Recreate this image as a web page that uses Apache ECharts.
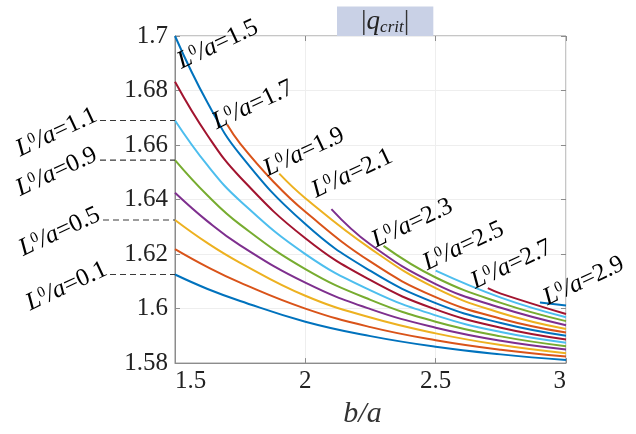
<!DOCTYPE html>
<html><head><meta charset="utf-8">
<script src="https://cdn.jsdelivr.net/npm/echarts@6/dist/echarts.min.js"></script>
<style>html,body{margin:0;padding:0;background:#fff}#c{width:636px;height:434px}</style>
</head><body><div id="c"></div>
<script>
// L0/a values of each curve
const lRatios = ['0.1','0.3','0.5','0.7','0.9','1.1','1.3','1.5','1.7','1.9','2.1','2.3','2.5','2.7','2.9'];
// [b/a, |q_crit|]
const q_L01 = [[1.5,1.6125],[1.625,1.6072],[1.75,1.6028],[2.0,1.5952],[2.25,1.5899],[2.5,1.5860],[2.75,1.5832],[3.0,1.5811]];
const q_L03 = [[1.5,1.6218],[1.625,1.6152],[1.75,1.6095],[2.0,1.6000],[2.25,1.5932],[2.5,1.5884],[2.75,1.5849],[3.0,1.5824]];
const q_L05 = [[1.5,1.6325],[1.625,1.6240],[1.75,1.6168],[2.0,1.6047],[2.25,1.5967],[2.5,1.5909],[2.75,1.5866],[3.0,1.5836]];
const q_L07 = [[1.5,1.6425],[1.625,1.6320],[1.75,1.6232],[2.0,1.6095],[2.25,1.5998],[2.5,1.5930],[2.75,1.5882],[3.0,1.5850]];
const q_L09 = [[1.5,1.6545],[1.625,1.6415],[1.75,1.6308],[2.0,1.6145],[2.25,1.6032],[2.5,1.5952],[2.75,1.5898],[3.0,1.5862]];
const q_L11 = [[1.5,1.6690],[1.625,1.6525],[1.75,1.6395],[2.0,1.6200],[2.25,1.6067],[2.5,1.5975],[2.75,1.5914],[3.0,1.5875]];
const q_L13 = [[1.5,1.6832],[1.625,1.6635],[1.75,1.6482],[2.0,1.6258],[2.25,1.6104],[2.5,1.5997],[2.75,1.5930],[3.0,1.5887]];
const q_L15 = [[1.5,1.7000],[1.625,1.6755],[1.75,1.6565],[2.0,1.6310],[2.25,1.6138],[2.5,1.6020],[2.75,1.5947],[3.0,1.5900]];
const q_L17 = [[1.7,1.6675],[1.75,1.6605],[1.875,1.6468],[2.0,1.6355],[2.25,1.6172],[2.5,1.6042],[2.75,1.5963],[3.0,1.5912]];
const q_L19 = [[1.9,1.6495],[2.0,1.6405],[2.25,1.6220],[2.5,1.6075],[2.75,1.5984],[3.0,1.5925]];
const q_L21 = [[2.1,1.6365],[2.25,1.6235],[2.5,1.6090],[2.75,1.6003],[3.0,1.5939]];
const q_L23 = [[2.3,1.6230],[2.5,1.6114],[2.75,1.6021],[3.0,1.5954]];
const q_L25 = [[2.5,1.6139],[2.75,1.6040],[3.0,1.5968]];
const q_L27 = [[2.7,1.6075],[2.75,1.6055],[3.0,1.5980]];
const q_L29 = [[2.9,1.6022],[3.0,1.6011]];
const curves = [q_L01,q_L03,q_L05,q_L07,q_L09,q_L11,q_L13,q_L15,q_L17,q_L19,q_L21,q_L23,q_L25,q_L27,q_L29];
const xTicks = [1.5, 2, 2.5, 3];
const yTicks = [1.58, 1.6, 1.62, 1.64, 1.66, 1.68, 1.7];

const colors = ['#0072BD','#D95319','#EDB120','#7E2F8E','#77AC30','#4DBEEE','#A2142F'];
const SERIF = '"Liberation Serif","DejaVu Serif",serif';
const chart = echarts.init(document.getElementById('c'), null, {renderer:'canvas'});

const axisCol = '#8c8c8c';
const series = curves.map((d, i) => ({
  type: 'line', name: 'L0/a=' + lRatios[i], data: d, smooth: 0.45,
  showSymbol: false, symbol: 'none', lineStyle: {width: 2, color: colors[i % 7]}, z: 3, silent: true
}));

const option = {
  animation: false,
  title: {
    text: '{b||}{q|q}{s|crit}{b||}',
    left: 337, top: 6,
    backgroundColor: '#c9d1e6',
    padding: [1, 24, 0, 24],
    textStyle: {
      fontWeight: 'normal',
      rich: {
        b: {fontFamily: SERIF, fontWeight: 'normal', fontSize: 28, color: '#333', lineHeight: 29},
        q: {fontFamily: SERIF, fontWeight: 'normal', fontStyle: 'italic', fontSize: 27, color: '#222', lineHeight: 29},
        s: {fontFamily: SERIF, fontWeight: 'normal', fontStyle: 'italic', fontSize: 17, color: '#222', verticalAlign: 'bottom', lineHeight: 23}
      }
    }
  },
  grid: {left: 175, right: 70, top: 36, bottom: 62, show: true, borderColor: axisCol, borderWidth: 1},
  xAxis: [{
    type: 'value', min: xTicks[0], max: xTicks[xTicks.length-1], interval: 0.5,
    axisLine: {lineStyle: {color: axisCol}},
    axisTick: {inside: true, length: 5, lineStyle: {color: axisCol}},
    axisLabel: {color: '#222', fontFamily: SERIF, fontSize: 25, margin: 6, alignMinLabel: 'left', alignMaxLabel: 'right'},
    splitLine: {show: true, lineStyle: {color: '#eeeeee'}},
    name: 'b/a', nameLocation: 'middle', nameGap: 33,
    nameTextStyle: {fontFamily: SERIF, fontStyle: 'italic', fontSize: 30, color: '#333', padding: [0, 16, 0, 0]}
  }, {
    type: 'value', position: 'top', min: xTicks[0], max: xTicks[xTicks.length-1], interval: 0.5,
    axisLine: {show: false}, axisTick: {inside: true, length: 5, lineStyle: {color: axisCol}},
    axisLabel: {show: false}, splitLine: {show: false}
  }],
  yAxis: [{
    type: 'value', min: yTicks[0], max: yTicks[yTicks.length-1], interval: 0.02,
    axisLine: {show: true, lineStyle: {color: axisCol}},
    axisTick: {show: true, inside: true, length: 5, lineStyle: {color: axisCol}},
    axisLabel: {color: '#222', fontFamily: SERIF, fontSize: 25, margin: 7,
      formatter: v => String(+v.toFixed(2))},
    splitLine: {show: true, lineStyle: {color: '#eeeeee'}}
  }, {
    type: 'value', position: 'right', min: yTicks[0], max: yTicks[yTicks.length-1], interval: 0.02,
    axisLine: {show: false}, axisTick: {show: true, inside: true, length: 5, lineStyle: {color: axisCol}},
    axisLabel: {show: false}, splitLine: {show: false}
  }],
  series: series
};
chart.setOption(option);

// curve labels
const labelRich = {
  i: {fontFamily: SERIF, fontStyle: 'italic', fontSize: 25, color: '#111'},
  s: {fontFamily: SERIF, fontSize: 15, color: '#111', verticalAlign: 'top'},
  n: {fontFamily: SERIF, fontSize: 25, color: '#111'}
};
const labelText = v => '{i|L}{s|0}{i|/a}{n|=' + v + '}';
const rot = 25 * Math.PI / 180;
const rightOffsets = {'1.5': [9, 38], '1.7': [-8, 10], '1.9': [-9, 8], '2.1': [-13, -6], '2.3': [-5, 7], '2.5': [-6, 5], '2.7': [-10, 6], '2.9': [10, 8]};
const leftEnds = {'1.1': 100, '0.9': 100, '0.5': 103, '0.1': 110};
const g = [];
curves.forEach((d, i) => {
  const key = lRatios[i];
  const p = chart.convertToPixel({gridIndex: 0}, d[0]);
  if (rightOffsets[key]) {
    const o = rightOffsets[key];
    g.push({type: 'text', x: p[0] + o[0], y: p[1] + o[1], rotation: rot, z: 10,
      style: {text: labelText(key), rich: labelRich, align: 'left', verticalAlign: 'bottom'}});
  }
  if (leftEnds[key] !== undefined) {
    const lx = leftEnds[key];
    g.push({type: 'line', shape: {x1: lx, y1: p[1], x2: p[0], y2: p[1]}, z: 9,
      style: {stroke: '#3a3a3a', lineWidth: 1.2, lineDash: [6, 4]}});
    g.push({type: 'text', x: lx + 1, y: p[1] + 5, rotation: rot, z: 10,
      style: {text: labelText(key), rich: labelRich, align: 'right', verticalAlign: 'bottom'}});
  }
});
chart.setOption({graphic: g});
</script></body></html>
